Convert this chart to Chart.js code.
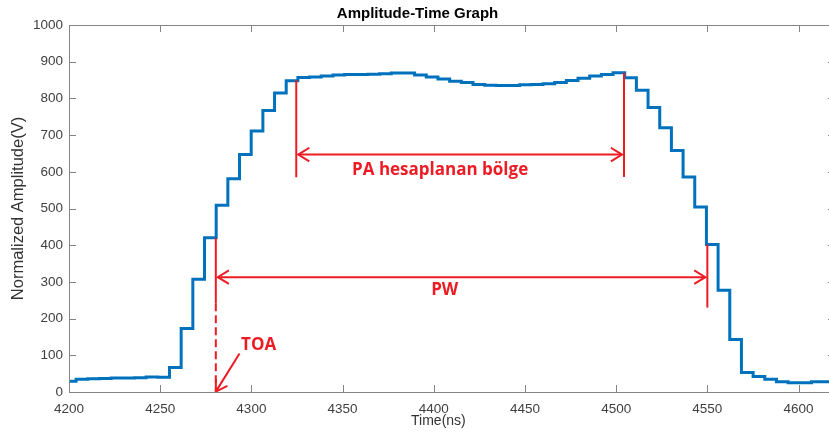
<!DOCTYPE html>
<html>
<head>
<meta charset="utf-8">
<script src="https://cdn.jsdelivr.net/npm/chart.js@4.4.0/dist/chart.umd.min.js"></script>
<style>
  html, body { margin: 0; padding: 0; background: #fff; overflow: hidden; }
  #wrap { width: 836px; height: 441px; }
</style>
</head>
<body>
<div id="wrap"><canvas id="chart" width="836" height="441"></canvas></div>
<script>
// ======= DATA =======
const timeNs = [
  4197.5, 4203.9, 4210.3, 4216.7, 4223.1, 4229.5, 4235.9, 4242.3, 4248.7,
  4255.1, 4261.5, 4267.9, 4274.3, 4280.7, 4287.1, 4293.5, 4299.9, 4306.3, 4312.7, 4319.1,
  4325.5, 4331.9, 4338.3, 4344.7, 4351.1, 4357.5, 4363.9, 4370.3, 4376.7, 4383.1,
  4389.5, 4395.9, 4402.3, 4408.7, 4415.1, 4421.5, 4427.9, 4434.3, 4440.7, 4447.1,
  4453.5, 4459.9, 4466.3, 4472.7, 4479.1, 4485.5, 4491.9, 4498.3,
  4504.7, 4511.1, 4517.5, 4523.9, 4530.3, 4536.7, 4543.1, 4549.5, 4555.9, 4562.3,
  4568.7, 4575.1, 4581.5, 4587.9, 4594.3, 4600.7, 4607.1, 4613.5, 4619.9, 4626.3
];
const amplitude = [
  29, 35, 36, 37, 38, 38, 39, 41, 40,
  67, 173, 307, 420, 509, 581, 647, 711, 767, 815, 848,
  857, 858, 861, 864, 865, 865, 866, 867, 869, 869,
  864, 858, 853, 847, 843, 838, 836, 835, 835, 837,
  838, 840, 843, 849, 855, 861, 865, 870,
  856, 822, 775, 720, 658, 586, 504, 402, 277, 143,
  53, 42, 35, 28, 25, 25, 28, 28, 28, 28
];
const xTickValues = [4200, 4250, 4300, 4350, 4400, 4450, 4500, 4550, 4600];
const yTickValues = [0, 100, 200, 300, 400, 500, 600, 700, 800, 900, 1000];

// annotation values (ns / V)
const paBars = [[4324.6, 850, 585], [4504.3, 870, 586]];
const paArrow = [4324.6, 4504.3, 647];
const pwBars = [[4280.5, 420, 242], [4550, 402, 230]];
const pwArrow = [4280.5, 4550, 313];
const toaDash = [4280.5, 242, 0];
const toaArrow = [4293.5, 105, 4280.5, 1];
const labels = [
  ["PA hesaplanan bölge", 4403.5, 604],
  ["PW", 4406, 278],
  ["TOA", 4304, 127]
];

const RED = "#ed1c24";

// ======= PLUGINS =======
const frame = {
  id: "frame",
  afterDraw(chart) {
    const { ctx, chartArea: a, scales: { x, y } } = chart;
    ctx.save();
    ctx.strokeStyle = "#858585";
    ctx.lineWidth = 1;
    ctx.strokeRect(Math.round(a.left) + 0.5, Math.round(a.top) + 0.5,
      Math.round(a.right - a.left), Math.round(a.bottom - a.top));
    ctx.beginPath();
    x.ticks.forEach(t => {
      const px = Math.round(x.getPixelForValue(t.value)) + 0.5;
      ctx.moveTo(px, a.bottom); ctx.lineTo(px, a.bottom - 7);
      ctx.moveTo(px, a.top); ctx.lineTo(px, a.top + 7);
    });
    y.ticks.forEach(t => {
      const py = Math.round(y.getPixelForValue(t.value)) + 0.5;
      ctx.moveTo(a.left, py); ctx.lineTo(a.left + 7, py);
      ctx.moveTo(a.right, py); ctx.lineTo(a.right - 7, py);
    });
    ctx.stroke();
    ctx.restore();
  }
};

function seg(ctx, x1, y1, x2, y2) {
  ctx.beginPath(); ctx.moveTo(x1, y1); ctx.lineTo(x2, y2); ctx.stroke();
}
function head(ctx, tx, ty, fx, fy) {
  const ang = Math.atan2(ty - fy, tx - fx), len = 13, spread = 0.55;
  ctx.beginPath();
  ctx.moveTo(tx - len * Math.cos(ang - spread), ty - len * Math.sin(ang - spread));
  ctx.lineTo(tx, ty);
  ctx.lineTo(tx - len * Math.cos(ang + spread), ty - len * Math.sin(ang + spread));
  ctx.stroke();
}

const marks = {
  id: "marks",
  afterDatasetsDraw(chart) {
    const { ctx, scales: { x, y } } = chart;
    const X = v => x.getPixelForValue(v), Y = v => y.getPixelForValue(v);
    ctx.save();
    ctx.strokeStyle = RED;
    ctx.fillStyle = RED;
    ctx.lineWidth = 2;

    paBars.concat(pwBars).forEach(b => seg(ctx, X(b[0]), Y(b[1]), X(b[0]), Y(b[2])));

    [paArrow, pwArrow].forEach(a => {
      const x1 = X(a[0]) + 2, x2 = X(a[1]) - 2, py = Y(a[2]);
      seg(ctx, x1, py, x2, py);
      head(ctx, x1, py, x2, py);
      head(ctx, x2, py, x1, py);
    });

    ctx.setLineDash([8, 4]);
    seg(ctx, X(toaDash[0]), Y(toaDash[1]), X(toaDash[0]), Y(toaDash[2]));
    ctx.setLineDash([]);

    const [ax1, ay1, ax2, ay2] = toaArrow;
    seg(ctx, X(ax1), Y(ay1), X(ax2), Y(ay2));
    head(ctx, X(ax2), Y(ay2), X(ax1), Y(ay1));

    ctx.font = "bold 17px 'Open Sans', 'Liberation Sans', sans-serif";
    ctx.textAlign = "center";
    ctx.textBaseline = "middle";
    labels.forEach(l => ctx.fillText(l[0], X(l[1]), Y(l[2])));
    ctx.restore();
  }
};

// ======= GRAFIK =======
const ctx = document.getElementById("chart");
new Chart(ctx, {
  type: "line",
  data: {
    datasets: [{
      data: timeNs.map((t, i) => ({ x: t, y: amplitude[i] })),
      stepped: "before",
      borderColor: "#0072bd",
      borderWidth: 3,
      pointRadius: 0,
      fill: false
    }]
  },
  options: {
    responsive: false,
    animation: false,
    devicePixelRatio: 1,
    layout: { padding: { left: 0, right: 1, top: 0, bottom: 0 } },
    plugins: {
      legend: { display: false },
      tooltip: { enabled: false },
      title: {
        display: true,
        text: "Amplitude-Time Graph",
        color: "#000",
        font: { family: "'Liberation Sans', Arial", size: 15, weight: "bold" },
        padding: { top: 5, bottom: 2 }
      }
    },
    scales: {
      x: {
        type: "linear",
        min: 4200,
        max: 4620,
        grid: { display: false, drawTicks: false },
        border: { display: false },
        afterBuildTicks: s => { s.ticks = xTickValues.map(v => ({ value: v })); },
        afterFit: s => { s.height = 49; },
        ticks: {
          padding: 9,
          color: "#404040",
          maxRotation: 0,
          font: { family: "'Liberation Sans', Arial", size: 13.5 },
          callback: v => String(v)
        },
        title: {
          display: true,
          text: "Time(ns)\u00a0\u00a0\u00a0\u00a0\u00a0\u00a0\u00a0",
          color: "#333",
          font: { family: "'Liberation Sans', Arial", size: 14 },
          padding: { top: 0, bottom: 11.6 }
        }
      },
      y: {
        min: 0,
        max: 1000,
        grid: { display: false, drawTicks: false },
        border: { display: false },
        afterBuildTicks: s => { s.ticks = yTickValues.map(v => ({ value: v })); },
        afterFit: s => { s.width = 69; },
        ticks: {
          padding: 6,
          color: "#404040",
          font: { family: "'Liberation Sans', Arial", size: 13.5 },
          callback: v => String(v)
        },
        title: {
          display: true,
          text: "Normalized Amplitude(V)",
          color: "#333",
          font: { family: "'Liberation Sans', Arial", size: 16.5 },
          padding: { top: 9, bottom: 0 }
        }
      }
    }
  },
  plugins: [frame, marks]
});
</script>
</body>
</html>
